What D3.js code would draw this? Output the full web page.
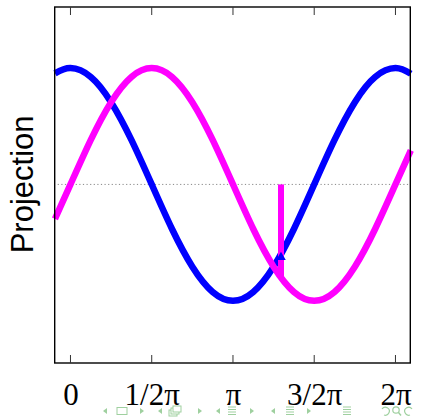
<!DOCTYPE html>
<html><head><meta charset="utf-8">
<script src="https://cdn.jsdelivr.net/npm/d3@7"></script>
<style>html,body{margin:0;padding:0;background:#fff;}svg{display:block;}</style>
</head><body>
<svg id="c" width="425" height="418"></svg>
<script>
// ---- data ----
const tickValues = [0, Math.PI/2, Math.PI, 3*Math.PI/2, 2*Math.PI];
const tickLabels = ["0", "1/2\u03C0", "\u03C0", "3/2\u03C0", "2\u03C0"];
const sampleX = [-0.3, 0, 0.393, 0.785, 1.178, 1.571, 1.963, 2.356, 2.749, 3.142, 3.534, 3.927, 4.320, 4.712, 5.105, 5.498, 5.890, 6.283, 6.58];
const blueY   = [0.955, 1.0, 0.924, 0.707, 0.383, 0.0, -0.383, -0.707, -0.924, -1.0, -0.924, -0.707, -0.383, 0.0, 0.383, 0.707, 0.924, 1.0, 0.952];
const magentaY= [-0.296, 0.0, 0.383, 0.707, 0.924, 1.0, 0.924, 0.707, 0.383, 0.0, -0.383, -0.707, -0.924, -1.0, -0.924, -0.707, -0.383, 0.0, 0.292];
const markerX = [4.07];
const markerSin = [-0.80];
const markerCos = [-0.60];
const yLabel = "Projection";
const navSymbols = ["tl","box","tr","tl","frames","tr","tl","lines","tr","tl","lines","tr","lines","undo","zoom","redo"];
const navX = [105,122,142,160,175,200,218,232,252,273,290,309,347,386,397,408];

// ---- layout ----
const svg = d3.select("#c");
const L = 54.7, R = 410.3, T = 7, B = 363;
const x = d3.scaleLinear().domain([-0.305, 6.57]).range([L, R]);
const y = d3.scaleLinear().domain([-1.535, 1.525]).range([B, T]);

// zero dotted line
svg.append("line").attr("x1", L+3).attr("x2", R).attr("y1", y(0)).attr("y2", y(0))
  .attr("stroke", "#888").attr("stroke-width", 1).attr("stroke-dasharray", "1.2,2.4");

const line = d3.line().x((d,i)=>x(sampleX[i])).y(d=>y(d)).curve(d3.curveNatural);
svg.append("path").attr("d", line(blueY)).attr("fill","none").attr("stroke","#0000ff").attr("stroke-width",6.5);
svg.append("path").attr("d", line(magentaY)).attr("fill","none").attr("stroke","#ff00ff").attr("stroke-width",6.5);

// projection marker
svg.append("line").attr("x1", x(markerX[0])).attr("x2", x(markerX[0]))
  .attr("y1", y(0)).attr("y2", y(markerSin[0])).attr("stroke","#ff00ff").attr("stroke-width",6);
svg.append("path").attr("d", d3.symbol(d3.symbolTriangle, 40)())
  .attr("transform", `translate(${x(markerX[0])},${y(markerCos[0])+3})`).attr("fill","#0000ff");

// frame
svg.append("rect").attr("x", L).attr("y", T).attr("width", R-L).attr("height", B-T)
  .attr("fill","none").attr("stroke","#000").attr("stroke-width",1.4);

// ticks top and bottom
const bottomAxis = d3.axisBottom(x).tickValues(tickValues).tickSize(0).tickFormat((d,i)=>tickLabels[i]);
tickValues.forEach(v=>{
  svg.append("line").attr("x1",x(v)).attr("x2",x(v)).attr("y1",B).attr("y2",B-8).attr("stroke","#333").attr("stroke-width",1);
  svg.append("line").attr("x1",x(v)).attr("x2",x(v)).attr("y1",T).attr("y2",T+8).attr("stroke","#333").attr("stroke-width",1);
});
const gx = svg.append("g").attr("transform", `translate(0,${B})`).call(bottomAxis);
gx.select(".domain").remove();
gx.selectAll("text").attr("font-family","'Liberation Serif','DejaVu Serif',serif").attr("font-size",31)
  .attr("fill","#000").attr("dy",0).attr("y",42);

// y label
svg.append("text").attr("transform", `translate(33,${y(0)}) rotate(-90)`).attr("text-anchor","middle")
  .attr("font-family","'Liberation Sans',Arial,sans-serif").attr("font-size",31).attr("fill","#000").text(yLabel);

// beamer navigation symbols
const navCol = "#9fd09f";
const gn = svg.append("g").attr("fill", navCol).attr("stroke", navCol);
navSymbols.forEach((s,i)=>{
  const cx = navX[i], cy = 411;
  if (s==="tl") gn.append("path").attr("d",`M${cx+2},${cy-3}L${cx-2},${cy}L${cx+2},${cy+3}Z`).attr("stroke","none");
  else if (s==="tr") gn.append("path").attr("d",`M${cx-2},${cy-3}L${cx+2},${cy}L${cx-2},${cy+3}Z`).attr("stroke","none");
  else if (s==="box") gn.append("rect").attr("x",cx-5).attr("y",cy-3.5).attr("width",10).attr("height",7).attr("fill","none").attr("stroke-width",1);
  else if (s==="frames") { [0,2,4].forEach(o=>gn.append("rect").attr("x",cx-6+o).attr("y",cy-1-o).attr("width",8).attr("height",6).attr("fill","#fff").attr("stroke-width",1)); }
  else if (s==="lines") { [-4,-1.5,1,3.5].forEach(o=>gn.append("line").attr("x1",cx-4).attr("x2",cx+4).attr("y1",cy+o).attr("y2",cy+o).attr("stroke-width",1)); }
  else if (s==="undo") gn.append("path").attr("d",`M${cx-4},${cy-2}A4,4 0 1 1 ${cx-2},${cy+4}`).attr("fill","none").attr("stroke-width",1.2);
  else if (s==="redo") gn.append("path").attr("d",`M${cx+4},${cy-2}A4,4 0 1 0 ${cx+2},${cy+4}`).attr("fill","none").attr("stroke-width",1.2);
  else if (s==="zoom") { gn.append("circle").attr("cx",cx-1).attr("cy",cy-1).attr("r",3.2).attr("fill","none").attr("stroke-width",1.2);
    gn.append("line").attr("x1",cx+1.5).attr("y1",cy+1.5).attr("x2",cx+4).attr("y2",cy+4.5).attr("stroke-width",1.4); }
});
</script>
</body></html>
